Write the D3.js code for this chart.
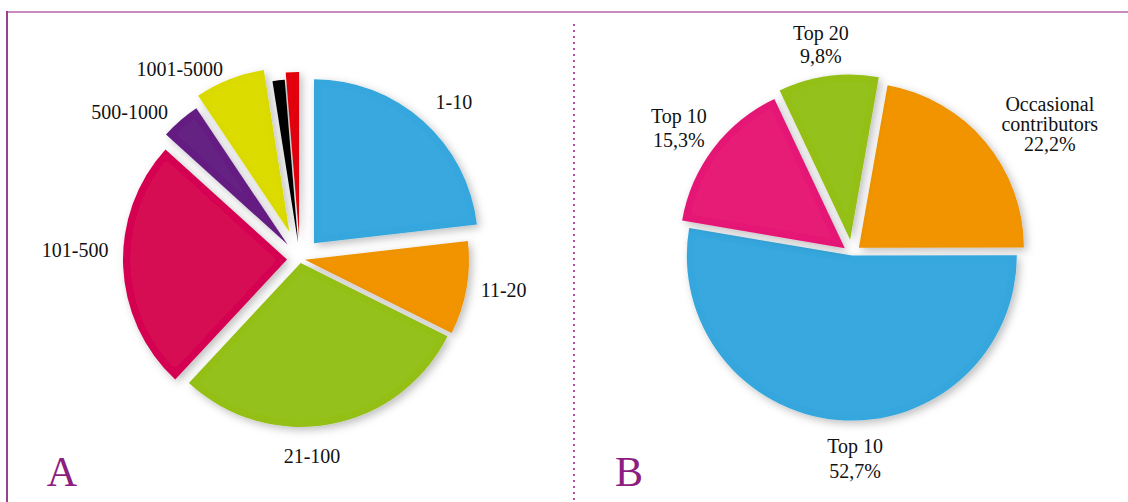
<!DOCTYPE html>
<html>
<head>
<meta charset="utf-8">
<script src="https://cdn.jsdelivr.net/npm/d3@7"></script>
<style>
  body { margin: 0; background: #fff; }
  svg { display: block; }
  text { font-family: "Liberation Serif", "Times New Roman", Tinos, "DejaVu Serif", serif; }
</style>
</head>
<body>
<div id="chart"></div>
<script>
// Panel A: share by group size (two thin slices are unlabelled in the original)
var labelsA = ["1-10", "11-20", "21-100", "101-500", "500-1000", "1001-5000", "", ""];
var valuesA = [23.2, 9.2, 29.6, 24.8, 3.9, 6.9, 1.2, 1.3];

// Panel B: contributor groups, percent
var labelsB = [["Occasional", "contributors"], ["Top 10"], ["Top 10"], ["Top 20"]];
var valuesB = [22.2, 52.7, 15.3, 9.8];

// Colours
var colorsA = ["#38a8df", "#f29400", "#95c11f", "#d60d52", "#662483", "#dcdc00", "#000000", "#e30613"];
var colorsB = ["#f29400", "#38a8df", "#e61f76", "#95c11f"];

// SVG area
var svgWidth = 1128;
var svgHeight = 502;

// Pie layout settings (angles in degrees, clockwise from 12 o'clock)
var pieA = {
    cx: 300, cy: 259, radius: 164, start: 0,
    explode: [21, 5, 4, 13, 19, 29, 16, 23],
    // label centre: [angle, distance]
    labelPos: [[44.4, 220], [98.7, 206], [176.5, 197], [272.3, 225], [310.8, 225], [327.7, 225]]
};
var pieB = {
    cx: 852, cy: 253.6, radius: 165, start: 10,
    explode: [9, 2, 9, 14],
    // first baseline of label: [angle, distance]
    labelPos: [[54.3, 243.6], [179.1, 199], [307, 216.8], [351.7, 215.8]],
    lineHeight: [20, 25, 23.5, 23.3]
};

var rad = Math.PI / 180;

var svg = d3.select("#chart")
    .append("svg")
    .attr("width", svgWidth)
    .attr("height", svgHeight);

// Soft drop shadow + very faint inner edge for every slice
var filter = svg.append("defs").append("filter")
    .attr("id", "shade")
    .attr("filterUnits", "userSpaceOnUse")
    .attr("x", -600).attr("y", -300)
    .attr("width", 1200).attr("height", 600);
filter.append("feGaussianBlur").attr("in", "SourceAlpha").attr("stdDeviation", 4.5).attr("result", "blur");
filter.append("feOffset").attr("in", "blur").attr("dx", 3).attr("dy", 3).attr("result", "off");
filter.append("feFlood").attr("flood-color", "#000").attr("flood-opacity", 0.26).attr("result", "col");
filter.append("feComposite").attr("in", "col").attr("in2", "off").attr("operator", "in").attr("result", "shadow");
filter.append("feGaussianBlur").attr("in", "SourceAlpha").attr("stdDeviation", 4).attr("result", "iblur");
filter.append("feComposite").attr("in", "SourceAlpha").attr("in2", "iblur").attr("operator", "out").attr("result", "edge");
filter.append("feFlood").attr("flood-color", "#000").attr("flood-opacity", 0.05).attr("result", "icol");
filter.append("feComposite").attr("in", "icol").attr("in2", "edge").attr("operator", "in").attr("result", "inner");
var merge = filter.append("feMerge");
merge.append("feMergeNode").attr("in", "shadow");
merge.append("feMergeNode").attr("in", "SourceGraphic");
merge.append("feMergeNode").attr("in", "inner");

// Frame lines
svg.append("line")
    .attr("x1", 7).attr("x2", svgWidth).attr("y1", 12).attr("y2", 12)
    .attr("stroke", "#c98cc2").attr("stroke-width", 2);
svg.append("line")
    .attr("x1", 7).attr("x2", 7).attr("y1", 11).attr("y2", svgHeight)
    .attr("stroke", "#99408e").attr("stroke-width", 2);
svg.append("line")
    .attr("x1", 574).attr("x2", 574).attr("y1", 24).attr("y2", svgHeight)
    .attr("stroke", "#b0509f").attr("stroke-width", 2)
    .attr("stroke-dasharray", "2,4");

function polar(angle, dist) {
    return [Math.sin(angle * rad) * dist, -Math.cos(angle * rad) * dist];
}

function drawPie(values, colors, cfg) {
    var g = svg.append("g")
        .attr("transform", `translate(${cfg.cx}, ${cfg.cy})`);

    var pie = d3.pie()
        .sort(null)
        .startAngle(cfg.start * rad)
        .endAngle(cfg.start * rad + 2 * Math.PI);

    var arc = d3.arc()
        .innerRadius(0)
        .outerRadius(cfg.radius);

    g.selectAll(".slice")
        .data(pie(values))
        .enter().append("path")
        .attr("class", "slice")
        .attr("d", arc)
        .attr("fill", (d, i) => colors[i])
        .attr("filter", "url(#shade)")
        .attr("transform", function(d, i) {
            var mid = (d.startAngle + d.endAngle) / 2;
            var e = cfg.explode[i];
            return `translate(${Math.sin(mid) * e}, ${-Math.cos(mid) * e})`;
        });

    return g;
}

// Panel A
var gA = drawPie(valuesA, colorsA, pieA);
gA.selectAll(".lbl")
    .data(pieA.labelPos)
    .enter().append("text")
    .attr("class", "lbl")
    .attr("x", d => polar(d[0], d[1])[0])
    .attr("y", d => polar(d[0], d[1])[1])
    .attr("dy", "0.35em")
    .attr("text-anchor", "middle")
    .attr("font-size", 20)
    .attr("fill", "#111")
    .text((d, i) => labelsA[i]);

// Panel B
var gB = drawPie(valuesB, colorsB, pieB);
var fmt = v => v.toFixed(1).replace(".", ",") + "%";
pieB.labelPos.forEach(function(p, i) {
    var xy = polar(p[0], p[1]);
    var t = gB.append("text")
        .attr("x", xy[0])
        .attr("y", xy[1])
        .attr("text-anchor", "middle")
        .attr("font-size", 20)
        .attr("fill", "#111");
    labelsB[i].concat([fmt(valuesB[i])]).forEach(function(line, j) {
        t.append("tspan")
            .attr("x", xy[0])
            .attr("dy", j === 0 ? 0 : pieB.lineHeight[i])
            .text(line);
    });
});

// Panel letters
svg.append("text")
    .attr("x", 62).attr("y", 486)
    .attr("text-anchor", "middle")
    .attr("font-size", 42)
    .attr("fill", "#8d1d80")
    .text("A");
svg.append("text")
    .attr("x", 629).attr("y", 486)
    .attr("text-anchor", "middle")
    .attr("font-size", 42)
    .attr("fill", "#8d1d80")
    .text("B");
</script>
</body>
</html>
